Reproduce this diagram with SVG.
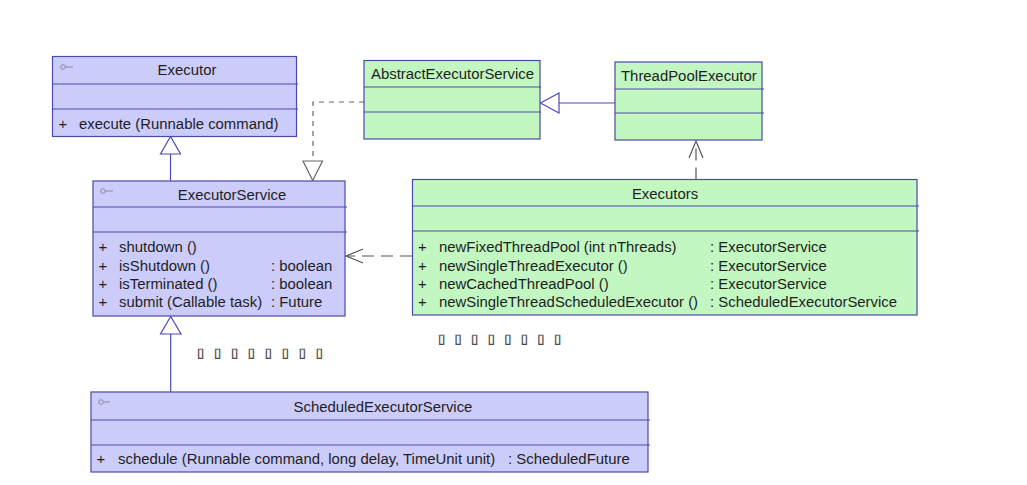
<svg xmlns="http://www.w3.org/2000/svg" width="1027" height="485" viewBox="0 0 1027 485">
<style>
.blue{fill:#ccccfb;stroke:#4a4aa8;stroke-width:1.2}
.green{fill:#c2f7c2;stroke:#4a4aa8;stroke-width:1.2}
.div{stroke:#4a4aa8;stroke-width:1.2}
text{font-family:"Liberation Sans",Arial,sans-serif;font-size:14.9px;fill:#1e1e1e}
.t{text-anchor:middle}
.icon{fill:none;stroke:#8a8aa0;stroke-width:1}
.gen{fill:none;stroke:#4a4ac0;stroke-width:1.2}
.gtri{fill:#ffffff;stroke:#4a4ac0;stroke-width:1.2}
.dash{fill:none;stroke:#666;stroke-width:1.2;stroke-dasharray:5 5}
.dtri{fill:#ffffff;stroke:#666;stroke-width:1.2}
.dep{fill:none;stroke:#555;stroke-width:1.2;stroke-dasharray:12 7}
.head{fill:none;stroke:#555;stroke-width:1.2}
.tofu{font-family:"DejaVu Sans",sans-serif;font-size:13px;fill:#555;stroke:#444;stroke-width:0.4}
</style>
<rect width="1027" height="485" fill="#ffffff"/>
<g id="connectors">
<line class="gen" x1="170.5" y1="181" x2="170.5" y2="154"/>
<polygon class="gtri" points="170.5,136.5 160.5,154 180.5,154"/>
<polyline class="dash" points="364,102 313,102 313,161"/>
<polygon class="dtri" points="312.7,180.5 303,161 322.5,161"/>
<line class="gen" x1="615" y1="103" x2="559" y2="103"/>
<polygon class="gtri" points="540.5,103 559,93 559,113"/>
<line class="dep" x1="696" y1="179.5" x2="696" y2="142" stroke-dasharray="8 5"/>
<polyline class="head" points="689,158 696,141 703,158"/>
<line class="dep" x1="412" y1="256" x2="346" y2="256"/>
<polyline class="head" points="363,249 346,256 363,263"/>
<line class="gen" x1="170.7" y1="392" x2="170.7" y2="334"/>
<polygon class="gtri" points="170.7,316.5 160.5,334 181,334"/>
</g>
<g id="Executor">
<rect class="blue" x="52.5" y="56.5" width="244" height="80"/>
<line class="div" x1="52.5" y1="84" x2="298" y2="84"/>
<line class="div" x1="52.5" y1="109" x2="298" y2="109"/>
<circle class="icon" cx="63" cy="67" r="2.3"/>
<line class="icon" x1="65.5" y1="67" x2="73" y2="67"/>
<text class="t" x="187" y="75">Executor</text>
<text x="58.5" y="129">+</text>
<text x="79" y="129">execute (Runnable command)</text>
</g>
<g id="AbstractExecutorService">
<rect class="green" x="364" y="60.5" width="176" height="78.5"/>
<line class="div" x1="364" y1="87" x2="541" y2="87"/>
<line class="div" x1="364" y1="112" x2="541" y2="112"/>
<text x="371" y="79">AbstractExecutorService</text>
</g>
<g id="ThreadPoolExecutor">
<rect class="green" x="615" y="62" width="147" height="78"/>
<line class="div" x1="615" y1="89" x2="764" y2="89"/>
<line class="div" x1="615" y1="113" x2="764" y2="113"/>
<text x="621" y="81">ThreadPoolExecutor</text>
</g>
<g id="ExecutorService">
<rect class="blue" x="93" y="181" width="252" height="135"/>
<line class="div" x1="93" y1="207" x2="347" y2="207"/>
<line class="div" x1="93" y1="232" x2="347" y2="232"/>
<circle class="icon" cx="103" cy="191" r="2.3"/>
<line class="icon" x1="105.5" y1="191" x2="113" y2="191"/>
<text class="t" x="232" y="200">ExecutorService</text>
<text x="98.5" y="252">+</text><text x="119" y="252">shutdown ()</text>
<text x="98.5" y="270.5">+</text><text x="119" y="270.5">isShutdown ()</text><text x="271" y="270.5">: boolean</text>
<text x="98.5" y="289">+</text><text x="119" y="289">isTerminated ()</text><text x="271" y="289">: boolean</text>
<text x="98.5" y="307">+</text><text x="119" y="307">submit (Callable task)</text><text x="271" y="307">: Future</text>
</g>
<g id="Executors">
<rect class="green" x="412.5" y="179.5" width="504.5" height="135.5"/>
<line class="div" x1="412.5" y1="206" x2="919" y2="206"/>
<line class="div" x1="412.5" y1="231" x2="919" y2="231"/>
<text class="t" x="665" y="199">Executors</text>
<text x="418" y="252">+</text><text x="439" y="252">newFixedThreadPool (int nThreads)</text><text x="710" y="252">: ExecutorService</text>
<text x="418" y="270.5">+</text><text x="439" y="270.5">newSingleThreadExecutor ()</text><text x="710" y="270.5">: ExecutorService</text>
<text x="418" y="289">+</text><text x="439" y="289">newCachedThreadPool ()</text><text x="710" y="289">: ExecutorService</text>
<text x="418" y="307">+</text><text x="439" y="307">newSingleThreadScheduledExecutor ()</text><text x="710" y="307">: ScheduledExecutorService</text>
</g>
<g id="ScheduledExecutorService">
<rect class="blue" x="91" y="392" width="557" height="80"/>
<line class="div" x1="91" y1="420" x2="650" y2="420"/>
<line class="div" x1="91" y1="445" x2="650" y2="445"/>
<circle class="icon" cx="101" cy="402" r="2.3"/>
<line class="icon" x1="103.5" y1="402" x2="110" y2="402"/>
<text class="t" x="383" y="411.5">ScheduledExecutorService</text>
<text x="96.5" y="464">+</text>
<text x="118" y="464">schedule (Runnable command, long delay, TimeUnit unit)</text>
<text x="508" y="464">: ScheduledFuture</text>
</g>
<g id="notes">
<text class="tofu" x="197" y="357" letter-spacing="9.8">▯▯▯▯▯▯▯▯</text>
<text class="tofu" x="438" y="343" letter-spacing="9.4">▯▯▯▯▯▯▯▯</text>
</g>
</svg>
